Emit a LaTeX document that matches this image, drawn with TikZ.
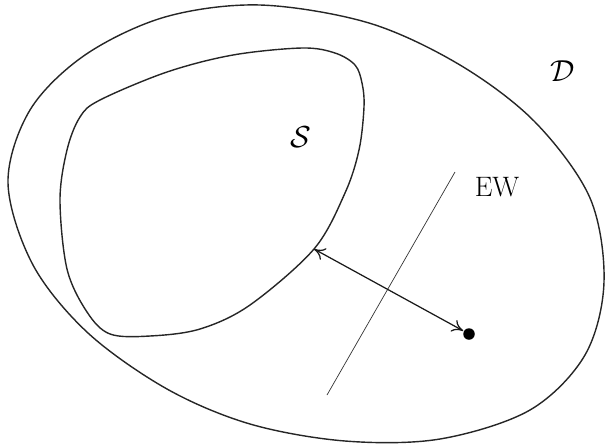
\documentclass[tikz,border=0pt]{standalone}
\usepackage{tikz}
\usetikzlibrary{arrows.meta,positioning,calc}

\begin{document}
\begin{tikzpicture}[
  x=0.02cm,y=-0.02cm,
  region/.style={draw=black!85,line width=0.8pt},
  ewline/.style={draw=black!80,line width=0.4pt},
  dist/.style={{To[length=2.2mm,width=2.6mm]}-{To[length=2.2mm,width=2.6mm]},line width=0.7pt,draw=black!90,shorten >=0.3pt},
  dotpt/.style={circle,fill=black,inner sep=0pt,minimum size=2.3mm},
  lbl/.style={font=\fontsize{16}{18}\selectfont,inner sep=0pt}
]
\useasboundingbox (0,0) rectangle (605,444);
% outer domain D
\draw[region] plot[smooth cycle,tension=0.55] coordinates {
  (8,183) (30,110) (85,55) (165,17) (260,5) (369,23) (460,65)
  (535,122) (590,198) (604,282) (585,355) (530,410) (440,439)
  (345,441) (250,424) (167,389) (88,333) (33,265)};
% inner set S
\draw[region] plot[smooth cycle,tension=0.55] coordinates {
  (60,200) (67,150) (80,117) (100,100) (167,72) (233,55) (302,48)
  (335,53) (355,65) (362,83) (364,107) (359,150) (345,193) (314,249)
  (250,305) (200,329) (150,336) (110,334) (87,312) (67,269)};
% separating line EW
\coordinate (ewtop) at (455,172);
\coordinate (ewbot) at (327,395);
\draw[ewline] (ewtop) -- (ewbot);
% point and its projection
\coordinate (foot) at (314,249);
\node[dotpt] (pt) at (469,334) {};
\draw[dist] (foot) -- (pt);
% labels
\node[lbl] (slabel) at (301,137) {$\mathcal{S}$};
\node[lbl] (dlabel) at (563,71) {$\mathcal{D}$};
\node[lbl] (ewlabel) at (497,187) {EW};
\end{tikzpicture}
\end{document}
